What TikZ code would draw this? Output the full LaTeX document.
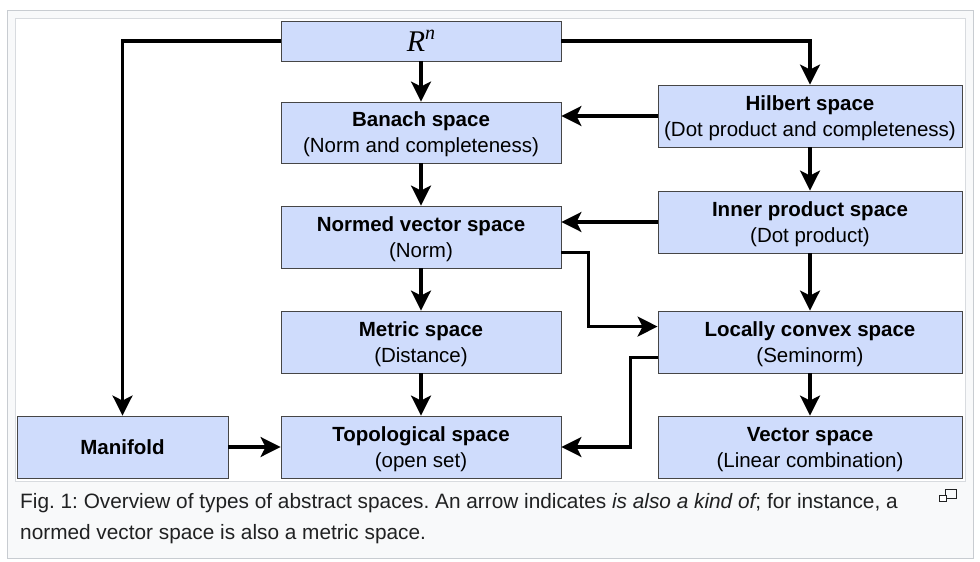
\documentclass[tikz,border=0pt]{standalone}
\usepackage{fontspec}
\setmainfont{Liberation Sans}
\newfontfamily\timesfont{Liberation Serif}
\usetikzlibrary{arrows.meta}
\definecolor{boxblue}{RGB}{207,220,252}
\definecolor{boxline}{RGB}{70,70,70}
\definecolor{framegray}{RGB}{200,204,209}
\definecolor{capbg}{RGB}{248,249,250}
\definecolor{captext}{RGB}{32,33,34}
\frenchspacing

\begin{document}
\begin{tikzpicture}[x=1pt,y=-1pt,
  space/.style={draw=boxline,line width=0.9pt,fill=boxblue,align=center,
    inner sep=0pt,text depth=0pt,font=\fontsize{20.5}{26}\selectfont},
  link/.style={line width=3.1pt,-{Stealth[length=20pt,width=20pt,inset=5pt]}},
  captionline/.style={anchor=base west,inner sep=0pt,text=captext,
    font=\fontsize{20.8}{30}\selectfont}]
\useasboundingbox (0,0) rectangle (980,562);
\draw[framegray,fill=capbg,line width=1pt] (7.5,10.5) rectangle (973.5,558.5);
\draw[framegray!70,fill=white,line width=1pt] (15.5,18.5) rectangle (965.5,481.5);
% boxes
\node[space,minimum width=280pt,minimum height=40pt] (rn) at (421,41)
  {\fontsize{30}{30}\selectfont\timesfont\itshape R\raisebox{12pt}{\fontsize{20}{20}\selectfont n}};
\node[space,minimum width=280pt,minimum height=61pt] (banach) at (421,132.5)
  {\textbf{Banach space}\\(Norm and completeness)};
\node[space,minimum width=304pt,minimum height=62pt] (hilbert) at (810,116)
  {\textbf{Hilbert space}\\(Dot product and completeness)};
\node[space,minimum width=280pt,minimum height=62pt] (normed) at (421,237)
  {\textbf{Normed vector space}\\(Norm)};
\node[space,minimum width=304pt,minimum height=62pt] (inner) at (810,222)
  {\textbf{Inner product space}\\(Dot product)};
\node[space,minimum width=280pt,minimum height=62pt] (metric) at (421,342)
  {\textbf{Metric space}\\(Distance)};
\node[space,minimum width=304pt,minimum height=62pt] (lcs) at (810,342)
  {\textbf{Locally convex space}\\(Seminorm)};
\node[space,minimum width=211pt,minimum height=62pt] (manifold) at (122.5,447)
  {\textbf{Manifold}};
\node[space,minimum width=280pt,minimum height=62pt] (topo) at (421,447)
  {\textbf{Topological space}\\(open set)};
\node[space,minimum width=304pt,minimum height=62pt] (vector) at (810,447)
  {\textbf{Vector space}\\(Linear combination)};
% arrows
\draw[link] (rn.west) -| (manifold.north);
\draw[link] (rn.east) -| (hilbert.north);
\draw[link] (rn) -- (banach);
\draw[link] (hilbert.west) -- (hilbert.west -| banach.east);
\draw[link] (banach) -- (normed);
\draw[link] (hilbert) -- (inner);
\draw[link] (inner.west) -- (inner.west -| normed.east);
\draw[link] ([yshift=16pt]normed.south east) -- ++(27,0) |- ([yshift=-16pt]lcs.north west);
\draw[link] (inner) -- (lcs);
\draw[link] (normed) -- (metric);
\draw[link] (metric) -- (topo);
\draw[link] ([yshift=16pt]lcs.south west) -- ++(-27,0) |- (topo.east);
\draw[link] (lcs) -- (vector);
\draw[link] (manifold) -- (topo);
% caption
\node[captionline] (caption1) at (20,508)
  {Fig. 1: Overview of types of abstract spaces. An arrow indicates {\itshape is also a kind of}; for instance, a};
\node[captionline] (caption2) at (20,539)
  {normed vector space is also a metric space.};
\draw[captext,line width=0.9pt] (945.5,489.5) rectangle (956.5,498.5);
\draw[captext,line width=0.9pt,fill=white] (939.5,495.5) rectangle (946.5,501.5);
\end{tikzpicture}
\end{document}
